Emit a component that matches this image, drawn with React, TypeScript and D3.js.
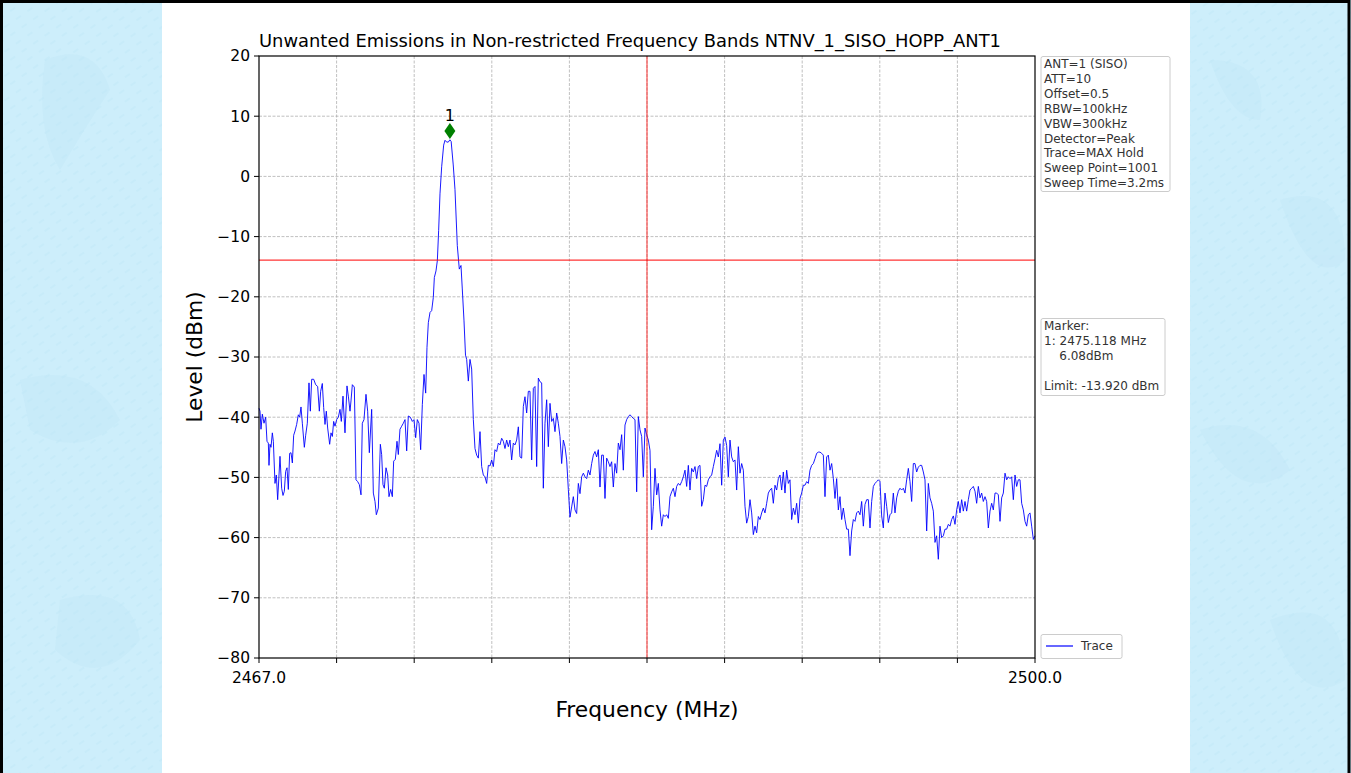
import * as d3 from "d3";

// sweep range and limit
const freqStart = 2467.0;
const freqStop = 2500.0;
const limitLevel = -13.92;
const bandEdge = 2483.5;
const yTicks = [-80, -70, -60, -50, -40, -30, -20, -10, 0, 10, 20];
const xTickCount = 10;

// marker
const markerFreq = 2475.118;
const markerLevel = 6.08;
const markerLabel = "1";

// trace: first part read as [MHz, dBm] pairs
const traceHead: [number, number][] = [
  [2467.0, -38.5], [2467.043, -39], [2467.085, -42], [2467.142, -39.5], [2467.213, -41],
  [2467.284, -40], [2467.34, -44], [2467.397, -44.3], [2467.425, -48], [2467.468, -44.5],
  [2467.51, -45], [2467.567, -42.6], [2467.61, -44], [2467.68, -51], [2467.737, -49.6],
  [2467.794, -53.7], [2467.851, -49.6], [2467.893, -46.5], [2467.964, -51.8], [2468.021, -53],
  [2468.077, -52.3], [2468.134, -49], [2468.191, -48.4], [2468.247, -52], [2468.304, -46],
  [2468.361, -45.9], [2468.418, -47.6], [2468.474, -43], [2468.531, -42.3], [2468.602, -41.2],
  [2468.673, -39.6], [2468.729, -40], [2468.786, -38.3], [2468.843, -41], [2468.928, -45],
  [2468.985, -43], [2469.055, -41], [2469.126, -34.3], [2469.183, -39], [2469.24, -33.7],
  [2469.325, -33.7], [2469.41, -34.6], [2469.495, -34.9], [2469.566, -39], [2469.622, -35.7],
  [2469.693, -34.4], [2469.75, -38.4], [2469.807, -41.2], [2469.863, -39], [2469.92, -41.8],
  [2470.005, -44.5], [2470.062, -42.6], [2470.119, -43.2], [2470.175, -40.7], [2470.232, -41.5],
  [2470.303, -40.4], [2470.374, -40], [2470.445, -38.7], [2470.501, -40.7], [2470.572, -36.5],
  [2470.657, -42.6], [2470.742, -34.8], [2470.799, -36.5], [2470.87, -39], [2470.912, -37.3],
  [2470.969, -34.6], [2471.054, -35], [2471.125, -50.4], [2471.196, -50.7], [2471.267, -51.2],
  [2471.338, -52.9], [2471.394, -41], [2471.465, -40.4], [2471.55, -36.2], [2471.621, -39],
  [2471.692, -45.9], [2471.791, -38.7], [2471.862, -52.6], [2471.933, -54], [2471.99, -56.2],
  [2472.075, -55.1], [2472.16, -44.5], [2472.216, -46.2], [2472.273, -51.2], [2472.33, -51.8],
  [2472.401, -48.4], [2472.472, -49.6], [2472.528, -53.2], [2472.599, -52], [2472.67, -53.2],
  [2472.727, -47.3], [2472.798, -47], [2472.868, -44], [2472.925, -46.2], [2472.996, -42],
  [2473.067, -41.5], [2473.138, -41], [2473.209, -40.4], [2473.28, -45.6], [2473.35, -39.8],
  [2473.435, -40], [2473.521, -40.7], [2473.591, -40.4], [2473.662, -43.4], [2473.733, -40.4],
  [2473.804, -41], [2473.875, -45.4], [2473.946, -37.9], [2474.017, -32.9], [2474.088, -36],
  [2474.144, -28.4], [2474.201, -24.3], [2474.272, -22.6], [2474.343, -22.3], [2474.413, -20.1],
  [2474.456, -16.8], [2474.527, -15.7], [2474.584, -14], [2474.64, -9], [2474.697, -2.9],
  [2474.768, 1.6], [2474.853, 5.2], [2474.91, 6], [2474.98, 5.7], [2475.051, 5.7],
  [2475.118, 6.08], [2475.172, 5.8], [2475.26, 1.9], [2475.335, -2.2], [2475.433, -11.5],
  [2475.518, -15.4], [2475.59, -14.8], [2475.645, -18.7], [2475.718, -24], [2475.782, -29.7],
];

// trace: rest of the sweep, evenly spaced from tailStart to freqStop
const tailStart = 2475.831;
const traceTail = [
  -30.4, -34, -30.4, -32, -40.4, -45.2, -46.3, -46.8, -42.4, -48.2,
  -49.6, -49.9, -51, -48, -48.1, -47.1, -48.2, -45.4, -45.7, -44.3,
  -44.6, -43.5, -44, -45.2, -43.8, -44.9, -43.8, -47.1, -44.3, -44.6,
  -43.8, -41.6, -46.6, -46.8, -38.2, -36.6, -39.3, -35.7, -35.7, -47.1,
  -35.2, -34.9, -48.2, -33.5, -34.1, -34.3, -51.8, -41, -37.1, -44.9,
  -37.7, -40.7, -40.2, -42.4, -39.3, -41, -43.2, -47.7, -43.8, -44.9,
  -47.1, -52, -56.6, -54.9, -53.2, -55.4, -56, -51, -52.7, -49.9,
  -49.3, -49.9, -50.2, -48.8, -49.6, -47.7, -46.3, -45.7, -46.6, -45.4,
  -51.6, -46.3, -46.3, -53.5, -46.8, -47.4, -48.2, -47.4, -51.6, -47.7,
  -49.3, -44.3, -45.4, -42.9, -48.8, -41.3, -40.4, -39.9, -39.6, -39.9,
  -40.2, -40.4, -52.4, -39.9, -42.1, -43.2, -49.9, -41.8, -42.9, -43.8,
  // 2483.5 MHz onwards
  -45.5, -58.7, -54.8, -48.5, -52.9, -51, -55.4, -58.1, -56.2, -56.5,
  -56.2, -56.8, -53.2, -52.4, -51.8, -53.2, -51.5, -51, -51.3, -50.7,
  -49.9, -48.8, -51.5, -48, -52.1, -48.5, -49.1, -48.2, -50.2, -48.2,
  -48, -54.8, -53.7, -51.3, -51.5, -50.4, -49.9, -49.6, -48.2, -46.9,
  -45.5, -46.6, -44.4, -51.3, -43.8, -43.3, -44.7, -49.9, -43.8, -46.6,
  -47.4, -47.1, -52.1, -44.9, -49.3, -47.7, -48.8, -54.8, -57.6, -56.5,
  -53.7, -55.9, -59.5, -58.1, -59.2, -56.5, -57, -55.9, -55.1, -55.9,
  -54.3, -52.6, -52.1, -51.8, -54.3, -51.3, -52.1, -50.2, -49.6, -52.1,
  -49.1, -52.6, -48.8, -51, -50.4, -57, -55.1, -56.2, -54.3, -57.6,
  -53.5, -52.6, -51.3, -51.3, -50.7, -51, -48.8, -48, -47.7, -46.9,
  -46, -45.8, -45.8, -46, -46.3, -53.2, -46.6, -46.3, -48.8, -47.7,
  -50.2, -53.5, -50.2, -55.4,
  // 2491.7 MHz onwards
  -53.2, -57, -55.1, -57, -58.6, -58.6, -63, -58.9, -57, -57.3,
  -55.9, -55.6, -56.2, -54, -58.1, -54.5, -53.7, -53.7, -58.4, -54,
  -51.5, -51, -50.7, -50.4, -50.7, -56.4, -58.4, -52.6, -54.8, -57.5,
  -56.2, -55.9, -52.6, -55.9, -53.4, -52.3, -51.8, -52.1, -51.8, -52.6,
  -50.4, -48.5, -50.7, -54, -47.7, -47.7, -49.1, -48.3, -48, -48,
  -49.1, -50.4, -58.9, -51, -53.4, -54.3, -55.6, -60.8, -59.7, -63.6,
  -58.1, -60, -59.7, -58.6, -58.6, -57.8, -58.1, -57, -56.4, -57.8,
  -55.4, -54, -55.9, -53.7, -55.6, -54, -55.6, -53.7, -52.1, -51.8,
  -51.5, -52.3, -54.3, -51.5, -53.4, -52.6, -54, -53.2, -54, -58.4,
  -55.6, -54.3, -55.4, -52.6, -52.6, -52.9, -57.3, -53.4, -52.6, -49.3,
  -50.4, -49.9, -50.2, -49.9, -53.7, -49.6, -51.5, -50.4, -50.4, -54.3,
  -55.4, -57.3, -58.1, -56.2, -55.9, -58.1, -60.3, -59.7,
];

const settingsLines = [
  "ANT=1 (SISO)",
  "ATT=10",
  "Offset=0.5",
  "RBW=100kHz",
  "VBW=300kHz",
  "Detector=Peak",
  "Trace=MAX Hold",
  "Sweep Point=1001",
  "Sweep Time=3.2ms",
];
const markerLines = [
  "Marker:",
  "1: 2475.118 MHz",
  "    6.08dBm",
  "",
  "Limit: -13.920 dBm",
];
const titleText =
  "Unwanted Emissions in Non-restricted Frequency Bands NTNV_1_SISO_HOPP_ANT1";

const W = 1351;
const H = 773;
const font = "'DejaVu Sans', sans-serif";

const App = () => {
  const x = d3.scaleLinear().domain([freqStart, freqStop]).range([259, 1035]);
  const y = d3.scaleLinear().domain([-80, 20]).range([658, 56]);

  const tailStep = (freqStop - tailStart) / (traceTail.length - 1);
  const trace: [number, number][] = [
    ...traceHead,
    ...traceTail.map((v, i) => [tailStart + i * tailStep, v] as [number, number]),
  ];
  const line = d3
    .line<[number, number]>()
    .x((d) => x(d[0]))
    .y((d) => y(d[1]));

  const xTicks = d3.range(xTickCount + 1).map(
    (i) => freqStart + (i * (freqStop - freqStart)) / xTickCount,
  );
  const [x0, x1] = x.range();
  const [y0, y1] = y.range();

  const mx = x(markerFreq);
  const my = y(markerLevel + 1.45);
  const lineH = 14.9;

  return (
    <div style={{ position: "fixed", left: 0, top: 0, width: W, height: H }}>
      <svg width={W} height={H} style={{ display: "block" }}>
        <defs>
          <pattern
            id="bgp"
            width="14"
            height="10"
            patternUnits="userSpaceOnUse"
            patternTransform="rotate(-35)"
          >
            <rect width="14" height="10" fill="#cdeefb" />
            <line x1="2" y1="5" x2="8" y2="5" stroke="#c2e8f7" strokeWidth="1" />
          </pattern>
        </defs>
        <rect width={W} height={H} fill="url(#bgp)" />
        <g fill="#bde3f5" opacity={0.3}>
          <path d="M45,60 Q95,40 110,90 Q90,120 60,170 Q35,130 45,60 Z" />
          <path d="M20,380 Q90,360 120,420 Q80,460 30,430 Z" />
          <path d="M60,600 Q130,580 140,640 Q100,690 55,650 Z" />
          <path d="M1210,60 Q1270,60 1260,120 Q1230,120 1210,60 Z" />
          <path d="M1280,200 Q1345,180 1345,260 Q1310,290 1280,200 Z" />
          <path d="M1200,430 Q1260,410 1290,470 Q1240,510 1200,430 Z" />
          <path d="M1270,620 Q1345,590 1345,680 Q1300,710 1270,620 Z" />
        </g>
        <rect x={162} y={0} width={1028} height={H} fill="#fff" />
        <rect x={1.5} y={1.5} width={W - 3.5} height={H + 4} fill="none" stroke="#000" strokeWidth={3} />

        {/* grid */}
        <g stroke="#b0b0b0" strokeWidth={0.8} strokeDasharray="3,1.5">
          {xTicks.slice(1, -1).map((t) => (
            <line key={"gx" + t} x1={x(t)} x2={x(t)} y1={y1} y2={y0} />
          ))}
          {yTicks.slice(1, -1).map((t) => (
            <line key={"gy" + t} x1={x0} x2={x1} y1={y(t)} y2={y(t)} />
          ))}
        </g>

        {/* trace */}
        <path d={line(trace) || ""} fill="none" stroke="blue" strokeWidth={0.9} />

        {/* limit and band edge */}
        <line x1={x0} x2={x1} y1={y(limitLevel)} y2={y(limitLevel)} stroke="#f00" strokeOpacity={0.8} strokeWidth={1.2} />
        <line x1={x(bandEdge)} x2={x(bandEdge)} y1={y1} y2={y0} stroke="#f00" strokeOpacity={0.8} strokeWidth={1} />

        {/* marker */}
        <path d={`M${mx},${my - 8} L${mx + 5.5},${my} L${mx},${my + 8} L${mx - 5.5},${my} Z`} fill="green" />
        <text x={mx} y={my - 10} fontFamily={font} fontSize={16} textAnchor="middle">
          {markerLabel}
        </text>

        {/* frame */}
        <rect x={x0} y={y1} width={x1 - x0} height={y0 - y1} fill="none" stroke="#000" strokeWidth={1.2} />

        {/* ticks */}
        <g stroke="#000" strokeWidth={1}>
          {xTicks.map((t) => (
            <line key={"tx" + t} x1={x(t)} x2={x(t)} y1={y0} y2={y0 + 5} />
          ))}
          {yTicks.map((t) => (
            <line key={"ty" + t} x1={x0 - 5} x2={x0} y1={y(t)} y2={y(t)} />
          ))}
        </g>
        <g fontFamily={font} fontSize={15.5} fill="#000">
          {yTicks.map((t) => (
            <text key={"ly" + t} x={x0 - 9} y={y(t)} dy="0.35em" textAnchor="end">
              {t < 0 ? "\u2212" + Math.abs(t) : String(t)}
            </text>
          ))}
          {[freqStart, freqStop].map((t) => (
            <text key={"lx" + t} x={x(t)} y={y0 + 25} textAnchor="middle">
              {t.toFixed(1)}
            </text>
          ))}
        </g>

        <text x={x0} y={47} fontFamily={font} fontSize={17.9} fill="#000">
          {titleText}
        </text>
        <text x={(x0 + x1) / 2} y={717} fontFamily={font} fontSize={21.8} textAnchor="middle">
          Frequency (MHz)
        </text>
        <text
          transform={`translate(202,${(y0 + y1) / 2}) rotate(-90)`}
          fontFamily={font}
          fontSize={21.8}
          textAnchor="middle"
        >
          Level (dBm)
        </text>

        {/* info boxes */}
        <g fontFamily={font} fontSize={12} fill="#333">
          <rect x={1041} y={56.5} width={129} height={135} rx={2} fill="#fff" stroke="#ccc" />
          {settingsLines.map((s, i) => (
            <text key={"s" + i} x={1044} y={68 + i * lineH} style={{ whiteSpace: "pre" }}>
              {s}
            </text>
          ))}
          <rect x={1041} y={318.5} width={124} height={77} rx={2} fill="#fff" stroke="#ccc" />
          {markerLines.map((s, i) => (
            <text key={"m" + i} x={1044} y={330 + i * lineH} style={{ whiteSpace: "pre" }}>
              {s}
            </text>
          ))}
          <rect x={1041} y={634.5} width={81} height={24} rx={2} fill="#fff" stroke="#ccc" />
          <line x1={1046} x2={1073} y1={646} y2={646} stroke="blue" strokeWidth={1.2} />
          <text x={1081} y={650}>Trace</text>
        </g>
      </svg>
    </div>
  );
};

export default App;
